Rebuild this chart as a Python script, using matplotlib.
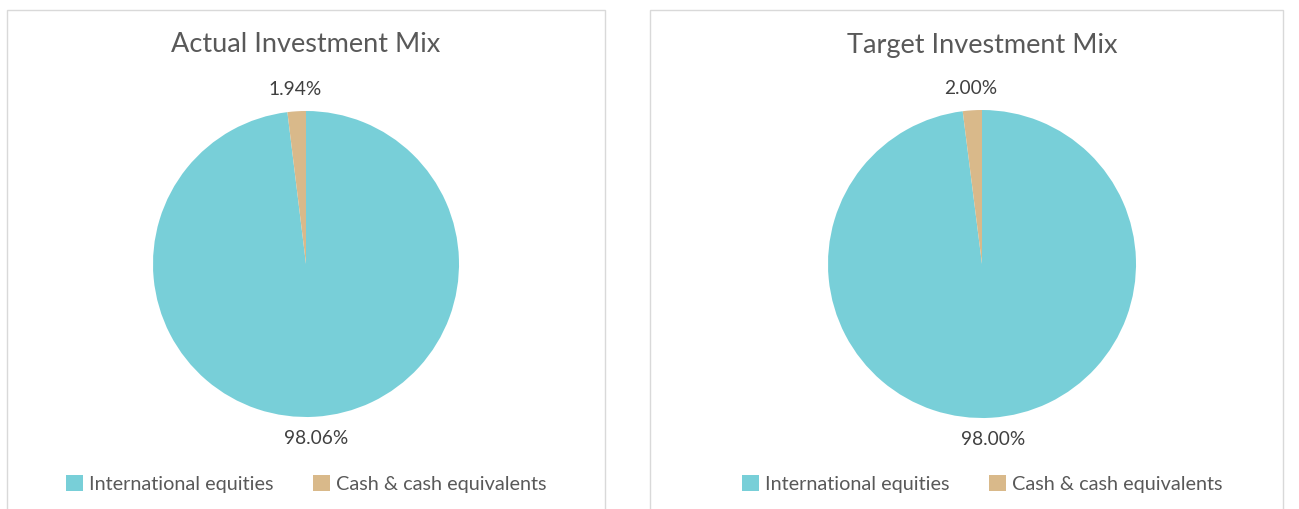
import matplotlib
matplotlib.use("Agg")
import matplotlib.pyplot as plt
from matplotlib.patches import Rectangle, Patch

plt.rcParams['font.family'] = ['Lato', 'DejaVu Sans']

categories = ["International equities", "Cash & cash equivalents"]
actual_values = [98.06, 1.94]
target_values = [98.00, 2.00]
titles = ["Actual Investment Mix", "Target Investment Mix"]
colors = ["#78CFD8", "#D9B98A"]

W, H = 1299, 509
fig = plt.figure(figsize=(W / 100, H / 100), dpi=100)
fig.patch.set_facecolor("white")

def fx(px):
    return px / W

def fy(py_top):
    return 1 - py_top / H

panels = [(7, 10, 605), (650, 10, 1283)]
for x0, y0, x1 in panels:
    fig.patches.append(Rectangle((fx(x0), -0.05), fx(x1) - fx(x0), fy(y0) + 0.05,
                                 transform=fig.transFigure, fill=False,
                                 edgecolor="#D9D9D9", linewidth=1.0))

pies = [(306, 264, 153, actual_values), (982, 264, 154, target_values)]
for (cx, cy, r, vals), title in zip(pies, titles):
    ax = fig.add_axes([fx(cx - r), fy(cy + r), fx(2 * r), 2 * r / H])
    wedges, texts, autotexts = ax.pie(
        vals, colors=colors, startangle=90, counterclock=False,
        autopct=lambda p: f"{p:.2f}%", pctdistance=1.14,
        wedgeprops=dict(linewidth=0), textprops=dict(fontsize=13.8, color="#404040"))
    ax.set_xlim(-1, 1)
    ax.set_ylim(-1, 1)
    ax.set_aspect("equal")
    ax.axis("off")
    fig.text(fx(cx), fy(45), title, ha="center", va="center",
             fontsize=19.5, color="#595959")
    handles = [Patch(facecolor=c, edgecolor="none") for c in colors]
    fig.legend(handles, categories, loc="center", bbox_to_anchor=(fx(cx), fy(484)),
               ncol=2, frameon=False, fontsize=14.3, labelcolor="#595959",
               handlelength=0.85, handleheight=0.85, handletextpad=0.3,
               columnspacing=2.0)

fig.savefig("out.png", dpi=100)
